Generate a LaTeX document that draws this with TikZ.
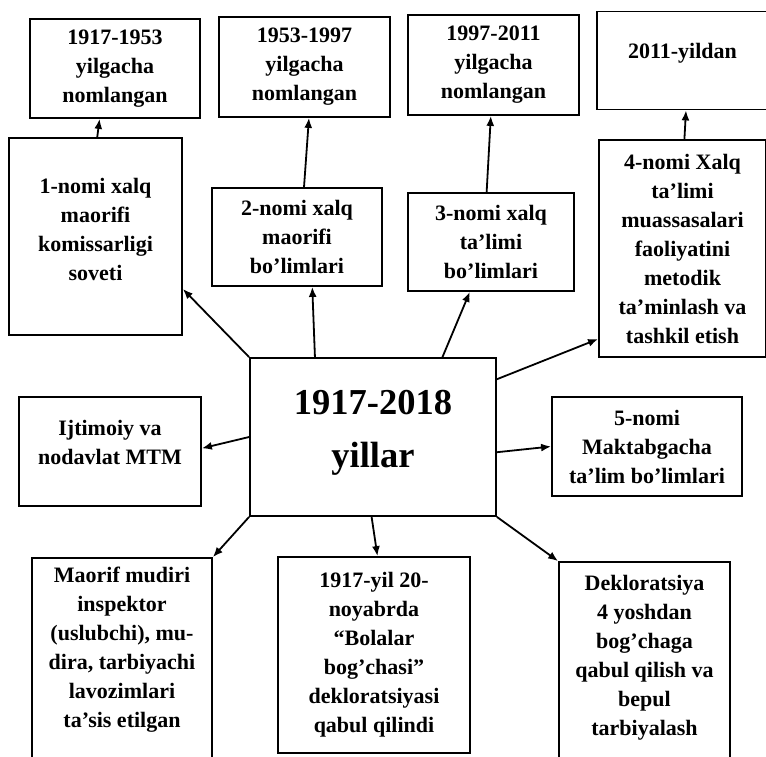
\documentclass[tikz,border=0pt]{standalone}
\usepackage{fontspec}
\setmainfont{Liberation Serif}
\usetikzlibrary{arrows.meta}
\newcommand\lift[1]{\rule[-#1]{0pt}{#1}}

\begin{document}
\begin{tikzpicture}[x=1pt,y=-1pt,
  box/.style={draw,line width=1.8pt,align=center,inner sep=2pt,
    font=\bfseries\fontsize{22}{29}\selectfont},
  arr/.style={-{Latex[length=10pt,width=8pt]},line width=1.8pt}]
  \useasboundingbox (0,0) rectangle (766,756);
  \clip (0,0) rectangle (766,756);
  % Periods (top row)
  \node[box,minimum width=170pt,minimum height=99pt] (top1) at (115,68.5) {1917-1953\\yilgacha\\nomlangan};
  \node[box,minimum width=171pt,minimum height=100pt] (top2) at (304.5,67) {1953-1997\\yilgacha\\nomlangan};
  \node[box,minimum width=171pt,minimum height=100pt] (top3) at (493.5,65) {1997-2011\\yilgacha\\nomlangan};
  \node[box,minimum width=171pt,minimum height=98pt] (top4) at (682.5,60.5) {2011-yildan\lift{19pt}};
  % Names of the department
  \node[box,minimum width=173pt,minimum height=197pt] (nomi1) at (95.5,236.5) {1-nomi xalq\\maorifi\\komissarligi\\soveti\lift{15pt}};
  \node[box,minimum width=170pt,minimum height=98pt] (nomi2) at (297,237) {2-nomi xalq\\maorifi\\bo’limlari};
  \node[box,minimum width=166pt,minimum height=98pt] (nomi3) at (491,242) {3-nomi xalq\\ta’limi\\bo’limlari};
  \node[box,minimum width=167pt,minimum height=217pt] (nomi4) at (682.5,248.5) {4-nomi Xalq\\ta’limi\\muassasalari\\faoliyatini\\metodik\\ta’minlash va\\tashkil etish};
  % Centre
  \node[box,minimum width=246pt,minimum height=158pt,
    font=\bfseries\fontsize{36.5}{53}\selectfont] (mid) at (373,437) {1917-2018\\yillar\lift{17pt}};
  % Middle row
  \node[box,minimum width=182pt,minimum height=109pt] (ijtimoiy) at (110,451.5) {Ijtimoiy va\\nodavlat MTM\lift{19pt}};
  \node[box,minimum width=190pt,minimum height=99pt] (nomi5) at (647,446.5) {5-nomi\\Maktabgacha\\ta’lim bo’limlari};
  % Bottom row
  \node[box,minimum width=180pt,minimum height=212pt] (maorif) at (122,664) {Maorif mudiri\\inspektor\\(uslubchi), mu-\\dira, tarbiyachi\\lavozimlari\\ta’sis etilgan\lift{33pt}};
  \node[box,minimum width=192pt,minimum height=196pt] (dekret) at (374,655) {1917-yil 20-\\noyabrda\\“Bolalar\\bog’chasi”\\dekloratsiyasi\\qabul qilindi};
  \node[box,minimum width=171pt,minimum height=208pt] (dekl) at (644.5,666) {Dekloratsiya\\4 yoshdan\\bog’chaga\\qabul qilish va\\bepul\\tarbiyalash\lift{21pt}};
  % Arrows
  \foreach \a/\b in {mid.north west/nomi1.-31, mid.126/nomi2.-73, mid.49/nomi3.-113,
      mid.25/nomi4.-133, nomi1.89/top1.-107, nomi2.82/top2.-85, nomi3.95/top3.-93,
      nomi4.89/top4.-86, mid.west/ijtimoiy.2, mid.-7/nomi5.west,
      mid.south west/maorif.north east, mid.-91/dekret.88, mid.south east/dekl.north west}%
    \draw[arr] (\a) -- (\b);
\end{tikzpicture}
\end{document}
